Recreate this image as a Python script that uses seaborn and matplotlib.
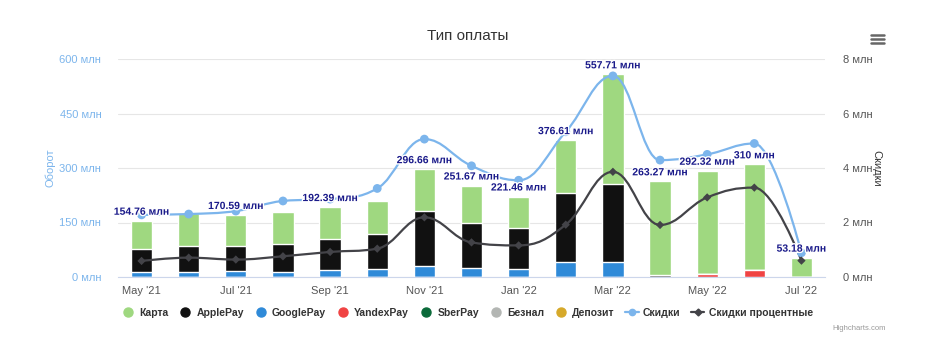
import numpy as np
import pandas as pd
import seaborn as sns
import matplotlib.pyplot as plt
import matplotlib.patheffects as pe
from matplotlib.path import Path
from matplotlib.patches import PathPatch
from matplotlib.lines import Line2D

sns.set_style('white')
plt.rcParams['font.family'] = ['Liberation Sans', 'DejaVu Sans']

# данные
months = ["May '21", "Jun '21", "Jul '21", "Aug '21", "Sep '21", "Oct '21", "Nov '21", "Dec '21",
          "Jan '22", "Feb '22", "Mar '22", "Apr '22", "May '22", "Jun '22", "Jul '22"]

# оборот по типам оплаты, млн
karta = [78.16, 90.4, 86.09, 88.4, 87.39, 91.0, 114.66, 103.67, 87.46, 145.61, 302.71, 258.27, 285.32, 290.0, 53.18]
applepay = [62, 70, 68, 77, 85, 97, 152, 124, 111, 189, 215, 5, 0, 0, 0]
googlepay = [14.6, 14.6, 16.5, 14.6, 20, 22, 30, 24, 23, 42, 40, 0, 0, 0, 0]
yandexpay = [0, 0, 0, 0, 0, 0, 0, 0, 0, 0, 0, 0, 7, 20, 0]
sberpay = [0] * 15
beznal = [0] * 15
deposit = [0] * 15

# подписи сумм (часть скрыта из-за наложения)
shown_totals = [154.76, None, 170.59, None, 192.39, None, 296.66, 251.67, 221.46,
                376.61, 557.71, 263.27, 292.32, 310, 53.18]

# скидки, млн (правая ось)
skidki = [2.28, 2.31, 2.42, 2.79, 2.86, 3.25, 5.06, 4.08, 3.55, 5.33, 7.38, 4.29, 4.5, 4.9, 0.89]
skidki_pct = [0.59, 0.71, 0.64, 0.76, 0.92, 1.04, 2.19, 1.27, 1.16, 1.92, 3.86, 1.91, 2.92, 3.28, 0.6]

series = [
    ('Карта', karta, '#9fd880'),
    ('ApplePay', applepay, '#111111'),
    ('GooglePay', googlepay, '#2f8ad8'),
    ('YandexPay', yandexpay, '#f04343'),
    ('SberPay', sberpay, '#0b6a3a'),
    ('Безнал', beznal, '#b3b6b3'),
    ('Депозит', deposit, '#d6a92a'),
]
blue_line = '#7cb5ec'
dark_line = '#434348'


def spline_path(xs, ys, smoothing=1.5):
    # сплайн как в highcharts
    n = len(xs)
    lc, rc = [], []
    for i in range(n):
        x, y = xs[i], ys[i]
        if 0 < i < n - 1:
            px, py = xs[i - 1], ys[i - 1]
            nx, ny = xs[i + 1], ys[i + 1]
            d = smoothing + 1
            lcx, lcy = (smoothing * x + px) / d, (smoothing * y + py) / d
            rcx, rcy = (smoothing * x + nx) / d, (smoothing * y + ny) / d
            corr = (rcy - lcy) * (rcx - x) / (rcx - lcx) + y - rcy
            lcy += corr
            rcy += corr
            if lcy > py and lcy > y:
                lcy = max(py, y); rcy = 2 * y - lcy
            elif lcy < py and lcy < y:
                lcy = min(py, y); rcy = 2 * y - lcy
            if rcy > ny and rcy > y:
                rcy = max(ny, y); lcy = 2 * y - rcy
            elif rcy < ny and rcy < y:
                rcy = min(ny, y); lcy = 2 * y - rcy
        else:
            lcx, lcy, rcx, rcy = x, y, x, y
        lc.append((lcx, lcy))
        rc.append((rcx, rcy))
    verts = [(xs[0], ys[0])]
    codes = [Path.MOVETO]
    for i in range(1, n):
        verts += [rc[i - 1], lc[i], (xs[i], ys[i])]
        codes += [Path.CURVE4] * 3
    return Path(verts, codes)


fig = plt.figure(figsize=(9.39, 3.5), dpi=100)
ax = fig.add_axes([118 / 939, 1 - 277 / 350, 707 / 939, 218 / 350])

# накопленные столбцы: сверху вниз
stack = np.zeros(len(months))
cums = []
for name, vals, color in reversed(series):
    stack = stack + np.array(vals, dtype=float)
    cums.append((name, stack.copy(), color, sum(vals)))
for name, cum, color, tot in reversed(cums):
    if tot == 0:
        continue
    df = pd.DataFrame({'month': months, 'value': cum})
    sns.barplot(data=df, x='month', y='value', color=color, saturation=1, width=0.45,
                edgecolor='white', linewidth=1, ax=ax, zorder=2)
totals = stack

ax.set_xlim(-0.5, len(months) - 0.5)
ax.set_ylim(0, 600)
ax.set_yticks([0, 150, 300, 450, 600])
ax.set_yticklabels([f'{v} млн' for v in [0, 150, 300, 450, 600]])
ax.set_xticks(range(0, len(months), 2))
ax.set_xticklabels(months[::2])
ax.grid(axis='y', color='#e6e6e6', lw=0.8, zorder=0)
ax.set_axisbelow(True)
for s in ['top', 'left', 'right']:
    ax.spines[s].set_visible(False)
ax.spines['bottom'].set_color('#ccd6eb')
ax.spines['bottom'].set_zorder(5)
ax.tick_params(axis='y', length=0, pad=12, labelsize=8, labelcolor=blue_line)
ax.tick_params(axis='x', length=5, width=0.8, color='#ccd6eb', pad=1.5, labelsize=8, labelcolor='#555555')
ax.set_xlabel('')
ax.set_ylabel('Оборот', color=blue_line, fontsize=8)
ax.yaxis.set_label_coords((56 - 118) / 707, 0.5)

# правая ось: скидки
ax2 = ax.twinx()
ax2.set_ylim(0, 8)
ax2.set_yticks([0, 2, 4, 6, 8])
ax2.set_yticklabels([f'{v} млн' for v in [0, 2, 4, 6, 8]])
for s in ax2.spines.values():
    s.set_visible(False)
ax2.tick_params(axis='y', length=0, pad=13, labelsize=8, labelcolor='#555555')
ax2.set_ylabel('Скидки', color='#333333', fontsize=8, rotation=270, va='center')
ax2.yaxis.set_label_coords((876 - 118) / 707, 0.5)

xs = np.arange(len(months))
for vals, color in [(skidki, blue_line), (skidki_pct, dark_line)]:
    ax2.add_patch(PathPatch(spline_path(xs, vals), fill=False, edgecolor=color, lw=1.6, zorder=3))
sns.scatterplot(x=xs, y=skidki, color=blue_line, s=40, marker='o', edgecolor='none', ax=ax2, zorder=4)
sns.scatterplot(x=xs, y=skidki_pct, color=dark_line, s=18, marker='D', edgecolor='none', ax=ax2, zorder=4)

# подписи сумм
for i, t in enumerate(shown_totals):
    if t is None:
        continue
    ax2.annotate(f'{t:g} млн', xy=(i, totals[i]), xycoords=ax.transData, xytext=(0, 6.5),
                 textcoords='offset points', ha='center', va='center', fontsize=7.5,
                 fontweight='bold', color='#1a1a8a', zorder=6,
                 path_effects=[pe.withStroke(linewidth=2, foreground='white')])

fig.text(468 / 939, 1 - 36 / 350, 'Тип оплаты', ha='center', va='center', fontsize=11, color='#333333')

# легенда
handles = [Line2D([], [], marker='o', ls='', color=c, markersize=6.5) for _, _, c in series]
handles += [Line2D([], [], marker='o', color=blue_line, lw=1.6, markersize=4.5),
            Line2D([], [], marker='D', color=dark_line, lw=1.6, markersize=3.5)]
labels = [n for n, _, _ in series] + ['Скидки', 'Скидки процентные']
fig.legend(handles, labels, loc='center', bbox_to_anchor=(467 / 939, 1 - 313 / 350), ncol=9,
           frameon=False, prop={'size': 7.5, 'weight': 'bold'}, labelcolor='#333333',
           handlelength=1.3, handletextpad=0.4, columnspacing=1.0)

fig.text(886 / 939, 1 - 328 / 350, 'Highcharts.com', ha='right', va='center', fontsize=5.5, color='#999999')

# иконка меню
for yy in [34.5, 38.5, 42.5]:
    fig.add_artist(Line2D([871 / 939, 884 / 939], [1 - yy / 350] * 2, color='#666666', lw=1.8))

fig.savefig('out.png', dpi=100)
